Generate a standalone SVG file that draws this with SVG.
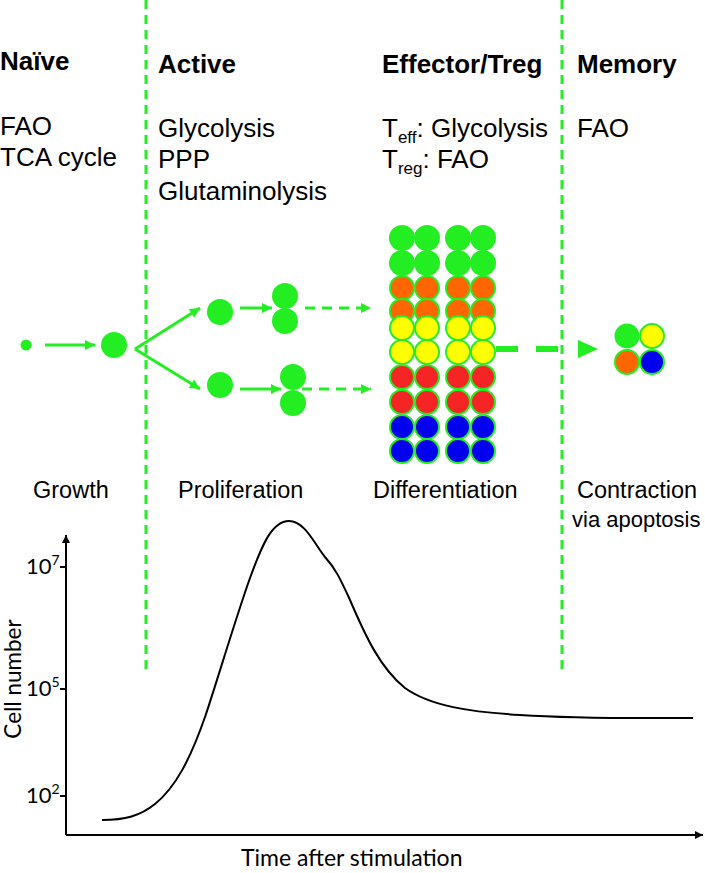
<svg xmlns="http://www.w3.org/2000/svg" width="705" height="873" viewBox="0 0 705 873">
<style>
.t{font-family:"Liberation Sans",Arial,sans-serif;fill:#000}
.b{font-weight:bold;font-size:26px}
.r{font-size:26px}
.l{font-size:23.5px}
.c{font-family:Lato,"Liberation Sans",sans-serif;fill:#000}
.phase{stroke:#22ee22;stroke-width:3;stroke-dasharray:9 6;fill:none}
.g{fill:#22ee22}
.cell{stroke:#22ee22;stroke-width:2}
.arr{stroke:#22ee22;stroke-width:3;fill:none}
.dash{stroke:#22ee22;stroke-width:3;stroke-dasharray:10 7;fill:none}
.ax{stroke:#000;stroke-width:2;fill:none}
.or{fill:#ff6600}.ye{fill:#ffff00}.re{fill:#f52525}.bl{fill:#0000ee}
</style>
<defs>
<marker id="ag" viewBox="0 0 10 10" refX="10" refY="5" markerWidth="11" markerHeight="10" markerUnits="userSpaceOnUse" orient="auto"><path d="M0,0 L10,5 L0,10 z" fill="#22ee22"/></marker>
<marker id="ak" viewBox="0 0 10 10" refX="10" refY="5" markerWidth="9" markerHeight="8" markerUnits="userSpaceOnUse" orient="auto"><path d="M0,0 L10,5 L0,10 z" fill="#000"/></marker>
</defs>
<rect width="705" height="873" fill="#fff"/>

<g id="phase-lines">
<line class="phase" x1="146" y1="0" x2="146" y2="672"/>
<line class="phase" x1="562" y1="0" x2="562" y2="672"/>
</g>

<g id="headers">
<text class="t b" x="0" y="70">Naïve</text>
<text class="t b" x="158" y="73">Active</text>
<text class="t b" x="382" y="73">Effector/Treg</text>
<text class="t b" x="577" y="73">Memory</text>
<text class="t r" x="0" y="135">FAO</text>
<text class="t r" x="0" y="166">TCA cycle</text>
<text class="t r" x="158" y="137">Glycolysis</text>
<text class="t r" x="158" y="168">PPP</text>
<text class="t r" x="158" y="200">Glutaminolysis</text>
<text class="t r" x="382" y="137">T<tspan font-size="17" dy="6">eff</tspan><tspan dy="-6">: Glycolysis</tspan></text>
<text class="t r" x="382" y="168">T<tspan font-size="17" dy="6">reg</tspan><tspan dy="-6">: FAO</tspan></text>
<text class="t r" x="577" y="137">FAO</text>
<text class="t l" x="33" y="498">Growth</text>
<text class="t l" x="178" y="498">Proliferation</text>
<text class="t l" x="373" y="498">Differentiation</text>
<text class="t l" x="577" y="498">Contraction</text>
<text class="t" x="572" y="527" style="font-size:22px">via apoptosis</text>
</g>

<g id="naive-cell"><circle class="g" cx="26" cy="345" r="5.5"/></g>
<g id="growing-cell"><circle class="g" cx="114" cy="345" r="13"/></g>
<g id="active-cell-upper"><circle class="g" cx="220" cy="312" r="13"/></g>
<g id="active-cell-lower"><circle class="g" cx="220" cy="385" r="13"/></g>
<g id="dividing-upper"><circle class="g" cx="285" cy="296" r="13"/><circle class="g" cx="285" cy="321" r="13"/></g>
<g id="dividing-lower"><circle class="g" cx="293" cy="377" r="13"/><circle class="g" cx="293" cy="403" r="13"/></g>

<g id="effector-columns">
<g class="g">
<circle cx="402" cy="238" r="13"/><circle cx="427" cy="238" r="13"/><circle cx="458" cy="238" r="13"/><circle cx="483" cy="238" r="13"/>
<circle cx="402" cy="263" r="13"/><circle cx="427" cy="263" r="13"/><circle cx="458" cy="263" r="13"/><circle cx="483" cy="263" r="13"/>
</g>
<g class="cell or">
<circle cx="402" cy="288" r="12"/><circle cx="427" cy="288" r="12"/><circle cx="458" cy="288" r="12"/><circle cx="483" cy="288" r="12"/>
<circle cx="402" cy="311" r="12"/><circle cx="427" cy="311" r="12"/><circle cx="458" cy="311" r="12"/><circle cx="483" cy="311" r="12"/>
</g>
<g class="cell ye">
<circle cx="402" cy="328" r="12"/><circle cx="427" cy="328" r="12"/><circle cx="458" cy="328" r="12"/><circle cx="483" cy="328" r="12"/>
<circle cx="402" cy="352" r="12"/><circle cx="427" cy="352" r="12"/><circle cx="458" cy="352" r="12"/><circle cx="483" cy="352" r="12"/>
</g>
<g class="cell re">
<circle cx="402" cy="377" r="12"/><circle cx="427" cy="377" r="12"/><circle cx="458" cy="377" r="12"/><circle cx="483" cy="377" r="12"/>
<circle cx="402" cy="402" r="12"/><circle cx="427" cy="402" r="12"/><circle cx="458" cy="402" r="12"/><circle cx="483" cy="402" r="12"/>
</g>
<g class="cell bl">
<circle cx="402" cy="427" r="12"/><circle cx="427" cy="427" r="12"/><circle cx="458" cy="427" r="12"/><circle cx="483" cy="427" r="12"/>
<circle cx="402" cy="451" r="12"/><circle cx="427" cy="451" r="12"/><circle cx="458" cy="451" r="12"/><circle cx="483" cy="451" r="12"/>
</g>
</g>

<g id="memory-cells">
<circle class="g" cx="627" cy="336" r="12.5"/>
<circle class="cell ye" cx="652" cy="336" r="12"/>
<circle class="cell or" cx="627" cy="362" r="12"/>
<circle class="cell bl" cx="652" cy="362" r="12"/>
</g>

<g id="connectors">
<line class="arr" x1="45" y1="345" x2="95" y2="345" marker-end="url(#ag)"/>
<line class="arr" x1="135" y1="349" x2="200" y2="308" marker-end="url(#ag)"/>
<line class="arr" x1="135" y1="349" x2="200" y2="389" marker-end="url(#ag)"/>
<line class="arr" x1="240" y1="308" x2="272" y2="308" marker-end="url(#ag)"/>
<line class="arr" x1="240" y1="389" x2="281" y2="389" marker-end="url(#ag)"/>
<line class="dash" x1="305" y1="308" x2="371" y2="308" marker-end="url(#ag)"/>
<line class="dash" x1="302" y1="389" x2="371" y2="389" marker-end="url(#ag)"/>
<line x1="496" y1="349" x2="560" y2="349" stroke="#22ee22" stroke-width="6" stroke-dasharray="22 18"/>
<polygon points="578,340 598,349 578,358" fill="#22ee22"/>
</g>

<g id="graph">
<line class="ax" x1="66" y1="835" x2="66" y2="535" marker-end="url(#ak)"/>
<line class="ax" x1="66" y1="835" x2="703" y2="835" marker-end="url(#ak)"/>
<line class="ax" x1="60" y1="567" x2="66" y2="567"/>
<line class="ax" x1="60" y1="689" x2="66" y2="689"/>
<line class="ax" x1="60" y1="796" x2="66" y2="796"/>
<text class="c" font-size="22" x="26" y="574">10<tspan font-size="14" dy="-9">7</tspan></text>
<text class="c" font-size="22" x="26" y="696">10<tspan font-size="14" dy="-9">5</tspan></text>
<text class="c" font-size="22" x="26" y="803">10<tspan font-size="14" dy="-9">2</tspan></text>
<text class="c" font-size="22.5" text-anchor="middle" transform="translate(21,679) rotate(-90)">Cell number</text>
<text class="c" font-size="23" x="241" y="866">Time after stimulation</text>
<path d="M102,820 C125,820 140,816 155,804 C175,788 190,760 205,717 C215,688 235,620 250,578 C262,545 272,521 289,521 C305,521 315,545 325,557 C335,568 340,578 350,600 C365,635 380,668 405,688 C430,706 470,712 520,715 C580,719 640,718 693,718" fill="none" stroke="#000" stroke-width="2"/>
</g>
</svg>
